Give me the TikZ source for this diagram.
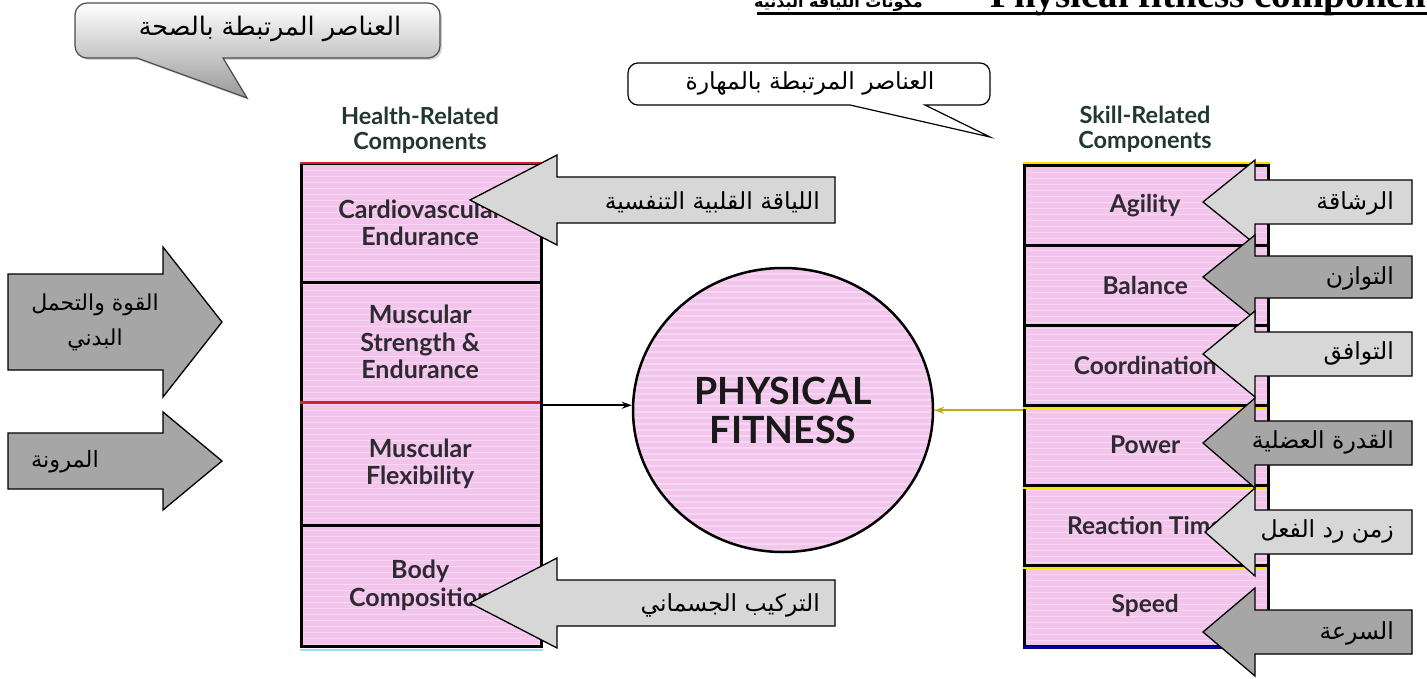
\documentclass[tikz,border=0pt]{standalone}
\usepackage{fontspec}
\setmainfont{Liberation Serif}
\newfontfamily\arabicfont[Script=Arabic]{DejaVu Sans}
\newfontfamily\labelfont{Lato}
\TeXXeTstate=1
\usetikzlibrary{shapes.geometric,arrows.meta,shadows}
\definecolor{pinkfill}{RGB}{243,196,236}
\definecolor{lightgr}{RGB}{215,215,215}
\definecolor{darkgr}{RGB}{166,166,166}
\definecolor{labelc}{RGB}{45,42,50}
\definecolor{headc}{RGB}{35,55,50}
\definecolor{skillline}{RGB}{185,170,30}
\definecolor{redline}{RGB}{220,30,40}
\newcommand{\blockarrow}[7]{\draw[#7] (#3,#4-#6) -- (#2,#4-#6) -- (#2,#4-#5) -- (#1,#4) -- (#2,#4+#5) -- (#2,#4+#6) -- (#3,#4+#6) -- cycle;}
\begin{document}
\begin{tikzpicture}[x=1pt,y=-1pt,
  texture/.style={fill=pinkfill, path picture={
     \foreach \i in {0,...,90}{
       \draw[white,opacity=.35,line width=1.3pt]
         ([yshift=-\i*6pt]path picture bounding box.north west) --
         ([yshift=-\i*6pt]path picture bounding box.north east);}}},
  colbox/.style={draw=black, line width=2.5pt, texture, inner sep=0, anchor=north west},
  cell/.style={inner sep=0, anchor=north west, align=center, text=labelc,
     font=\labelfont\bfseries\fontsize{25}{27.5}\selectfont},
  scell/.style={cell, font=\labelfont\bfseries\fontsize{24.5}{27}\selectfont},
  head/.style={align=center, text=headc, font=\labelfont\bfseries\fontsize{23.5}{25}\selectfont},
  arlab/.style={inner sep=0, font=\arabicfont\fontsize{23.5}{28}\selectfont},
  lightarrow/.style={fill=lightgr, draw=black, line width=1.3pt, line join=miter},
  darkarrow/.style={fill=darkgr, draw=black, line width=1.3pt, line join=miter},
  conn/.style={line width=1.8pt, -{Stealth[length=10pt,width=7pt]}}
]
\useasboundingbox (0,0) rectangle (1427,679);
\clip (0,0) rectangle (1427,679);
\fill[white] (0,0) rectangle (1427,679);

% title (cut off at top, as in the original)
\node[anchor=base west, inner sep=0, font=\bfseries\fontsize{39}{42}\selectfont] (ttlen) at (990,8) {Physical fitness components};
\node[anchor=base east, inner sep=0, font=\arabicfont\bfseries\fontsize{16}{20}\selectfont] (ttlar) at (923,8) {\beginR مكونات اللياقة البدنية\endR};
\draw[line width=3pt] (757,13.5) -- (1427,13.5);

% callout 1 (health)
\draw[draw=black!70, line width=1.2pt, top color=white, bottom color=black!40,
      drop shadow={shadow xshift=2pt, shadow yshift=-2pt, opacity=.35}]
  (223,58) -- (247,98) -- (137,58) -- (87,58) .. controls (80.4,58) and (75,52.6) .. (75,46)
  -- (75,15) .. controls (75,8.4) and (80.4,3) .. (87,3) -- (428,3)
  .. controls (434.6,3) and (440,8.4) .. (440,15) -- (440,46)
  .. controls (440,52.6) and (434.6,58) .. (428,58) -- cycle;
\node[inner sep=0, font=\arabicfont\fontsize{25.5}{30}\selectfont] (c1) at (270,29) {\beginR العناصر المرتبطة بالصحة\endR};

% callout 2 (skill)
\draw[draw=black, line width=1.2pt, fill=white]
  (925,105) -- (990,137) -- (850,105) -- (638,105) .. controls (632.5,105) and (628,100.5) .. (628,95)
  -- (628,73) .. controls (628,67.5) and (632.5,63) .. (638,63) -- (980,63)
  .. controls (985.5,63) and (990,67.5) .. (990,73) -- (990,95)
  .. controls (990,100.5) and (985.5,105) .. (980,105) -- cycle;
\node[inner sep=0, font=\arabicfont\fontsize{23.5}{28}\selectfont] (c2) at (810,83) {\beginR العناصر المرتبطة بالمهارة\endR};

% headings
\node[head] (hhead) at (420,130) {Health-Related\\Components};
\node[head] (shead) at (1145,129) {Skill-Related\\Components};

% health column
\node[colbox, minimum width=240pt, minimum height=482pt] (hcol) at (300,163) {};
\node[cell, minimum width=240pt, minimum height=119pt] (h1) at (300,163) {Cardiovascular\\Endurance};
\node[cell, minimum width=240pt, minimum height=120pt] (h2) at (300,282) {Muscular\\Strength \&\\Endurance};
\node[cell, minimum width=240pt, minimum height=123pt] (h3) at (300,402) {Muscular\\Flexibility};
\node[cell, minimum width=240pt, minimum height=120pt] (h4) at (300,525) {Body\\Composition};
\draw[redline, line width=2.5pt] (hcol.north west) -- (hcol.north east);
\draw[black, line width=2.5pt] (h1.south west) -- (h1.south east);
\draw[redline, line width=2.5pt] (h2.south west) -- (h2.south east);
\draw[black, line width=2.5pt] (h3.south west) -- (h3.south east);
\draw[cyan!40, line width=2pt] ([yshift=-2.5pt]hcol.south west) -- ([yshift=-2.5pt]hcol.south east);

% skill column
\node[colbox, minimum width=244pt, minimum height=480pt] (scol) at (1023,165) {};
\node[scell, minimum width=244pt, minimum height=80pt] (s1) at (1023,165) {Agility};
\node[scell, minimum width=244pt, minimum height=80pt] (s2) at (1023,245) {Balance};
\node[scell, minimum width=244pt, minimum height=80pt] (s3) at (1023,325) {Coordination};
\node[scell, minimum width=244pt, minimum height=80pt] (s4) at (1023,405) {Power};
\node[scell, minimum width=244pt, minimum height=80pt] (s5) at (1023,485) {Reaction Time};
\node[scell, minimum width=244pt, minimum height=80pt] (s6) at (1023,565) {Speed};
\draw[yellow!80!orange, line width=2pt] ([yshift=1.5pt]scol.north west) -- ([yshift=1.5pt]scol.north east);
\draw[black, line width=2.5pt] (scol.north west) -- (scol.north east);
\foreach \n in {s1,s2,s3,s4,s5}{
  \draw[black, line width=2.5pt] (\n.south west) -- (\n.south east);
}
\foreach \n in {s3,s4,s5}{
  \draw[yellow!85!orange, line width=1.5pt] ([yshift=-2.5pt]\n.south west) -- ([yshift=-2.5pt]\n.south east);
}
\draw[blue!60!black, line width=2.5pt] (scol.south west) -- (scol.south east);

% center
\node[ellipse, draw=black, line width=2.5pt, texture, minimum width=300pt, minimum height=284pt,
      align=center, text=black!90, font=\labelfont\bfseries\fontsize{37.5}{39}\selectfont] (fitness) at (783,410) {PHYSICAL\\FITNESS};

% connectors
\draw[conn, black] (hcol.east) -- (hcol.east -| fitness.west);
\draw[conn, skillline] ([yshift=-4pt]scol.west) -- ([yshift=-4pt]scol.west -| fitness.east);

% health arrows (pointing left)
\blockarrow{470}{557}{835}{200}{45}{23}{lightarrow}
\node[arlab, anchor=east] (a1) at (820,202) {\beginR اللياقة القلبية التنفسية\endR};
\blockarrow{470}{557}{835}{603}{45}{23}{lightarrow}
\node[arlab, anchor=east] (a2) at (820,605) {\beginR التركيب الجسماني\endR};

% left arrows (pointing right)
\blockarrow{222}{163}{8}{322}{75}{48}{darkarrow}
\node[arlab, align=center, font=\arabicfont\fontsize{22}{35}\selectfont] (b1) at (95,322) {\beginR القوة والتحمل\endR\\\beginR البدني\endR};
\blockarrow{222}{163}{8}{461}{49}{28}{darkarrow}
\node[arlab, font=\arabicfont\fontsize{22.5}{28}\selectfont] (b2) at (65,462) {\beginR المرونة\endR};

% skill arrows (pointing left)
\blockarrow{1203}{1255}{1412}{202}{42}{22}{lightarrow}
\node[arlab, anchor=east] (r1) at (1394,203) {\beginR الرشاقة\endR};
\blockarrow{1203}{1255}{1412}{277}{42}{21}{darkarrow}
\node[arlab, anchor=east] (r2) at (1394,278) {\beginR التوازن\endR};
\blockarrow{1203}{1255}{1412}{354}{43}{22}{lightarrow}
\node[arlab, anchor=east] (r3) at (1394,353) {\beginR التوافق\endR};
\blockarrow{1203}{1255}{1412}{443}{45}{22}{darkarrow}
\node[arlab, anchor=east] (r4) at (1394,442) {\beginR القدرة العضلية\endR};
\blockarrow{1205}{1255}{1412}{532}{44}{22}{lightarrow}
\node[arlab, anchor=east] (r5) at (1394,531) {\beginR زمن رد الفعل\endR};
\blockarrow{1203}{1255}{1412}{632}{44}{22}{darkarrow}
\node[arlab, anchor=east] (r6) at (1394,633) {\beginR السرعة\endR};
\end{tikzpicture}
\end{document}
